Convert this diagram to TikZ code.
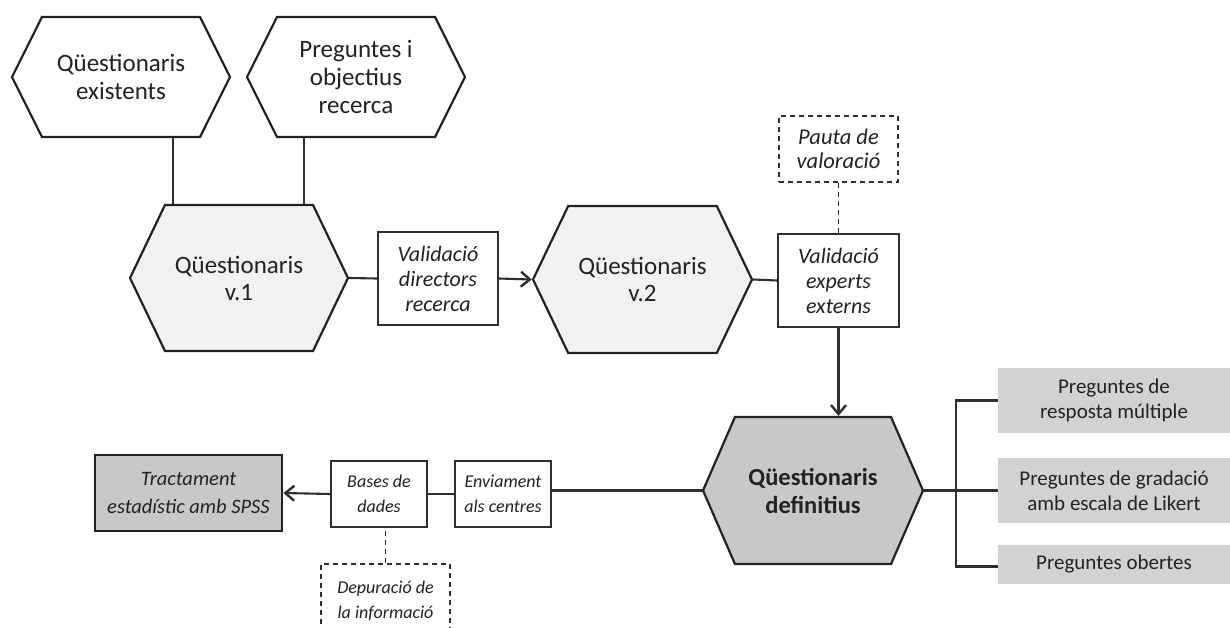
\documentclass[tikz,border=0pt]{standalone}
\usepackage{fontspec}
\setmainfont{Carlito}
\usetikzlibrary{shapes.symbols,arrows.meta}
\definecolor{inkdark}{HTML}{222222}
\definecolor{inkmid}{HTML}{2E2E2E}
\definecolor{paleshade}{HTML}{F2F2F2}
\definecolor{midshade}{HTML}{C8C8C8}
\definecolor{boxshade}{HTML}{D2D2D2}
\tikzset{
  hexa/.style={signal, signal to=west and east, signal pointer angle=#1,
    inner sep=0pt, draw=inkdark, line width=2.2pt, align=center, text=inkdark},
  plainbox/.style={rectangle, draw=inkmid, line width=1.8pt, fill=white, inner sep=0pt,
    align=center, text=inkdark, font=\fontsize{22}{25}\selectfont\itshape},
  lowbox/.style={plainbox, font=\fontsize{18}{25}\selectfont\itshape},
  notebox/.style={plainbox, line width=1.5pt, dash pattern=on 5pt off 4pt},
  greybox/.style={rectangle, fill=boxshade, inner sep=0pt, align=center, text=inkdark,
    font=\fontsize{21}{25}\selectfont},
  link/.style={draw=inkmid, line width=2.1pt},
  flow/.style={link, -{Straight Barb[length=9pt,width=15pt,line width=2.4pt]}},
  dashlink/.style={draw=inkmid, line width=1.4pt, dash pattern=on 5pt off 4pt},
}
\begin{document}
\begin{tikzpicture}[x=1pt,y=-1pt]
\useasboundingbox (0,0) rectangle (1230,628);
\clip (0,0) rectangle (1230,628);

% sources feeding the first draft
\node[hexa=126.9, minimum width=218, minimum height=120, fill=white,
      font=\fontsize{25}{28}\selectfont] (exist) at (121,77) {Qüestionaris\\existents};
\node[hexa=126.9, minimum width=218, minimum height=120, fill=white,
      font=\fontsize{25}{28}\selectfont] (aims) at (356,77) {Preguntes i\\objectius\\recerca};

% drafts of the questionnaire
\node[hexa=128.8, minimum width=218, minimum height=146, fill=paleshade,
      font=\fontsize{25}{27}\selectfont] (v1) at (239,278) {Qüestionaris\\v.1};
\node[hexa=128.8, minimum width=219, minimum height=147, fill=paleshade,
      font=\fontsize{25}{27}\selectfont] (v2) at (642.5,279.5) {Qüestionaris\\v.2};
\node[hexa=133, minimum width=220, minimum height=147, fill=midshade,
      font=\fontsize{24.5}{28}\selectfont\bfseries] (final) at (813,490.5) {Qüestionaris\\definitius};

% validation steps
\node[plainbox, minimum width=120, minimum height=93] (dirval) at (438,278.5)
  {Validació\\directors\\recerca};
\node[plainbox, minimum width=121, minimum height=93] (expval) at (838.5,280.5)
  {Validació\\experts\\externs};
\node[notebox, minimum width=119, minimum height=66,
      font=\fontsize{22.5}{24}\selectfont\itshape] (guide) at (838.5,149)
  {Pauta de\\valoració};

% data handling
\node[lowbox, minimum width=96, minimum height=66] (send) at (503,494)
  {Enviament\\als centres};
\node[lowbox, minimum width=96, minimum height=66] (data) at (379,494)
  {Bases de\\dades};
\node[lowbox, notebox, minimum width=129, minimum height=74,
      font=\fontsize{18}{25}\selectfont\itshape] (clean) at (385.5,601)
  {Depuració de\\la informació};
\node[rectangle, draw=inkdark, line width=2.8pt, fill=midshade, inner sep=0pt,
      minimum width=187, minimum height=76, align=center, text=inkdark,
      font=\fontsize{20.5}{28}\selectfont\itshape] (spss) at (188.5,493)
  {Tractament\\estadístic amb SPSS};

% question types
\node[greybox, minimum width=232, minimum height=65] (multi) at (1114,400.5)
  {Preguntes de\\resposta múltiple};
\node[greybox, minimum width=232, minimum height=65] (likert) at (1114,490.5)
  {Preguntes de gradació\\amb escala de Likert};
\node[greybox, minimum width=232, minimum height=39] (open) at (1114,564.5)
  {Preguntes obertes};

% connectors
\draw[link] ([xshift=52]exist.south) -- ([xshift=52]exist.south |- v1.north);
\draw[link] ([xshift=-52]aims.south) -- ([xshift=-52]aims.south |- v1.north);
\draw[link] (v1.east) -- (dirval.west);
\draw[flow] (dirval.east) -- (v2.west);
\draw[link] (v2.east) -- (expval.west);
\draw[dashlink] (guide.south) -- (expval.north);
\draw[flow] (expval.south) -- (expval.south |- final.north);
\draw[link] (final.west) -- (send.east |- final.west);
\draw[link] (send.west) -- (data.east);
\draw[flow] (data.west) -- (spss.east);
\draw[dashlink] (clean.north) -- (clean.north |- data.south);
\draw[link] (final.east) -- (likert.west);
\draw[link] (multi.west) -- ++(-42,0) |- ([yshift=-2]open.west);
\end{tikzpicture}
\end{document}
